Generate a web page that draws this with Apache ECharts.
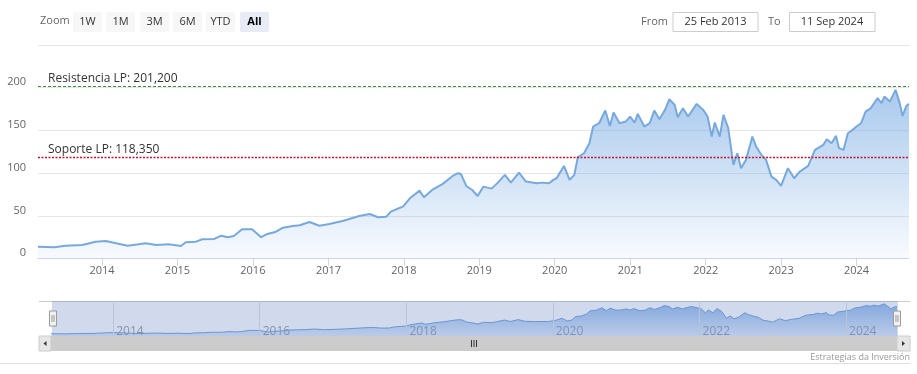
<!DOCTYPE html>
<html>
<head>
<meta charset="utf-8">
<script src="https://cdn.jsdelivr.net/npm/echarts@6/dist/echarts.min.js"></script>
<style>
  html, body { margin: 0; padding: 0; background: #fff; }
  #chart { width: 917px; height: 374px; }
</style>
</head>
<body>
<div id="chart"></div>
<script>
// ---- data ----
const dates = [
  '2013-02-25','2013-05-15','2013-07-08','2013-09-27','2013-12-01','2014-01-20','2014-03-10','2014-05-05',
  '2014-06-28','2014-08-01','2014-09-20','2014-11-20','2015-01-18','2015-02-10','2015-04-01','2015-05-01',
  '2015-06-28','2015-08-01','2015-09-01','2015-10-01','2015-11-10','2015-12-28','2016-02-10','2016-03-07',
  '2016-04-22','2016-05-26','2016-07-12','2016-08-15','2016-10-01','2016-11-18','2017-01-05','2017-03-10',
  '2017-05-30','2017-07-20','2017-08-29','2017-10-08','2017-10-30','2017-11-25','2017-12-28','2018-01-30',
  '2018-03-18','2018-04-08','2018-05-18','2018-07-08','2018-08-25','2018-09-20','2018-10-04','2018-10-30',
  '2018-11-28','2018-12-24','2019-01-20','2019-03-01','2019-04-01','2019-05-05','2019-06-03','2019-07-12',
  '2019-08-15','2019-10-05','2019-11-03','2019-12-05','2019-12-25','2020-01-10','2020-02-15','2020-03-13',
  '2020-04-05','2020-04-22','2020-05-22','2020-06-17','2020-07-05','2020-08-03','2020-09-02','2020-09-24',
  '2020-10-12','2020-11-10','2020-12-10','2020-12-31','2021-01-22','2021-02-06','2021-03-10','2021-04-05',
  '2021-04-27','2021-05-22','2021-06-18','2021-07-09','2021-08-04','2021-08-18','2021-09-13','2021-10-08',
  '2021-11-18','2021-12-20','2022-01-10','2022-01-30','2022-02-14','2022-03-10','2022-03-28','2022-04-20',
  '2022-05-15','2022-06-03','2022-06-21','2022-07-15','2022-08-15','2022-09-02','2022-09-28','2022-10-20',
  '2022-11-15','2022-12-08','2023-01-01','2023-02-03','2023-03-05','2023-04-01','2023-05-12','2023-06-14',
  '2023-07-24','2023-08-10','2023-09-02','2023-09-24','2023-10-08','2023-10-30','2023-11-20','2023-12-13',
  '2024-01-01','2024-01-23','2024-02-14','2024-03-10','2024-04-12','2024-05-01','2024-05-15','2024-06-10',
  '2024-07-08','2024-07-26','2024-08-11','2024-08-29','2024-09-11'
];
const values = [
  14.0,13.3,15.2,16.0,19.9,20.7,18.0,15.2,
  16.8,18.0,16.0,16.8,14.9,19.2,19.9,22.7,
  23.1,26.9,25.1,26.6,34.4,34.4,25.1,28.6,
  31.6,36.3,38.3,39.1,43.0,38.6,40.6,44.1,
  50.0,52.3,48.5,49.2,55.0,57.8,60.9,70.7,
  79.6,71.9,80.4,87.5,96.8,100.0,99.2,85.1,
  80.4,73.4,84.3,82.0,89.0,98.0,89.0,100.7,
  90.2,88.3,89.0,88.3,92.2,94.1,108.5,92.2,
  98.0,118.7,123.4,135.1,154.6,158.5,173.3,155.4,
  171.0,158.5,160.4,166.3,159.3,169.4,154.6,158.5,
  173.3,163.2,174.1,186.6,180.0,165.6,176.1,166.3,
  181.1,174.1,166.3,142.9,159.3,142.9,168.3,152.7,
  109.7,123.4,105.9,115.6,142.9,131.1,121.4,115.6,
  96.0,92.2,85.1,105.9,94.1,101.9,108.5,127.3,
  133.1,139.8,135.1,143.7,129.3,127.3,146.8,150.7,
  154.6,158.5,172.1,176.1,187.8,182.0,189.7,183.8,
  197.5,183.8,167.0,178.8,181.1
];
const rangeStart = '2013-02-25';
const rangeEnd = '2024-09-11';
const yTicks = [0, 50, 100, 150, 200];
const resistance = 201.2;
const resistanceLabel = 'Resistencia LP: 201,200';
const support = 118.35;
const supportLabel = 'Soporte LP: 118,350';
const navYears = ['2014-01-01','2016-01-01','2018-01-01','2020-01-01','2022-01-01','2024-01-01'];
const zoomButtons = ['1W','1M','3M','6M','YTD','All'];

// ---- chart ----
const seriesData = dates.map((d, i) => [d, values[i]]);
const FONT = 'Open Sans';
const YEAR = 365 * 24 * 3600 * 1000;

const chart = echarts.init(document.getElementById('chart'), null, { renderer: 'canvas' });

const graphics = [];
graphics.push({ type: 'text', left: 40, top: 15, style: { text: 'Zoom', fill: '#666', font: '11px "Open Sans"' } });
const btnX = [73, 106, 140, 173, 206, 240];
zoomButtons.forEach((b, i) => {
  const sel = b === 'All';
  graphics.push({ type: 'rect', shape: { x: btnX[i], y: 12, width: 29, height: 20, r: 2 },
    style: { fill: sel ? '#e6ebf5' : '#f7f7f7' } });
  graphics.push({ type: 'text', x: btnX[i] + 14.5, y: 22,
    style: { text: b, fill: sel ? '#000' : '#333', font: (sel ? 'bold ' : '') + '11px "Open Sans"', align: 'center', verticalAlign: 'middle' } });
});
graphics.push({ type: 'text', x: 641, y: 22, style: { text: 'From', fill: '#666', font: '11px "Open Sans"', verticalAlign: 'middle' } });
graphics.push({ type: 'rect', shape: { x: 673, y: 12.5, width: 85, height: 19 }, style: { fill: '#fff', stroke: '#cccccc', lineWidth: 1 } });
graphics.push({ type: 'text', x: 715.5, y: 22, style: { text: '25 Feb 2013', fill: '#333', font: '11px "Open Sans"', align: 'center', verticalAlign: 'middle' } });
graphics.push({ type: 'text', x: 768, y: 22, style: { text: 'To', fill: '#666', font: '11px "Open Sans"', verticalAlign: 'middle' } });
graphics.push({ type: 'rect', shape: { x: 789.5, y: 12.5, width: 85.5, height: 19 }, style: { fill: '#fff', stroke: '#cccccc', lineWidth: 1 } });
graphics.push({ type: 'text', x: 832, y: 22, style: { text: '11 Sep 2024', fill: '#333', font: '11px "Open Sans"', align: 'center', verticalAlign: 'middle' } });
// navigator outline top
graphics.push({ type: 'line', shape: { x1: 39, y1: 301.5, x2: 910, y2: 301.5 }, style: { stroke: '#cccccc', lineWidth: 1 }, z: 0 });
// scrollbar
graphics.push({ type: 'rect', shape: { x: 39, y: 336, width: 871, height: 15 }, style: { fill: '#f2f2f2' } });
graphics.push({ type: 'rect', shape: { x: 51, y: 336, width: 846, height: 15 }, style: { fill: '#cccccc' } });
graphics.push({ type: 'rect', shape: { x: 39, y: 336, width: 12, height: 15 }, style: { fill: '#e6e6e6', stroke: '#cccccc', lineWidth: 1 } });
graphics.push({ type: 'rect', shape: { x: 897, y: 336, width: 13, height: 15 }, style: { fill: '#e6e6e6', stroke: '#cccccc', lineWidth: 1 } });
graphics.push({ type: 'polygon', shape: { points: [[46.5, 341], [46.5, 346], [43.5, 343.5]] }, style: { fill: '#333' } });
graphics.push({ type: 'polygon', shape: { points: [[902, 341], [902, 346], [905, 343.5]] }, style: { fill: '#333' } });
[471.5, 474, 476.5].forEach(x => graphics.push({ type: 'line', shape: { x1: x, y1: 340, x2: x, y2: 347 }, style: { stroke: '#333', lineWidth: 1 } }));
// credits and bottom rule
graphics.push({ type: 'text', x: 910, y: 357, style: { text: 'Estrategias da Inversión', fill: '#999', font: '9px "Open Sans"', align: 'right', verticalAlign: 'middle' } });
graphics.push({ type: 'line', shape: { x1: 0, y1: 363.5, x2: 910, y2: 363.5 }, style: { stroke: '#dddddd', lineWidth: 1 } });

const markLabel = {
  show: true, position: 'insideStartTop', formatter: '{b}', distance: [10, 2],
  color: '#333', fontFamily: FONT, fontSize: 12
};

const option = {
  animation: false,
  backgroundColor: '#ffffff',
  textStyle: { fontFamily: FONT },
  graphic: graphics,
  grid: [
    { left: 38, right: 8, top: 45, height: 213.7 },
    { left: 51, right: 20, top: 301, height: 35 }
  ],
  xAxis: [
    {
      type: 'time', gridIndex: 0, min: rangeStart, max: rangeEnd,
      minInterval: YEAR, maxInterval: YEAR * 1.01, splitNumber: 12,
      axisLine: { lineStyle: { color: '#ccd6eb' } },
      axisTick: { show: true, length: 7, lineStyle: { color: '#ccd6eb' } },
      axisLabel: { formatter: '{yyyy}', color: '#666', fontFamily: FONT, fontSize: 11, margin: 7 },
      splitLine: { show: false }
    },
    {
      type: 'time', gridIndex: 1, min: rangeStart, max: rangeEnd,
      minInterval: YEAR, maxInterval: YEAR * 1.01, splitNumber: 12,
      axisLine: { show: false }, axisTick: { show: false },
      axisLabel: {
        inside: true, align: 'left', margin: -2, padding: [0, 0, 0, 3],
        color: '#999', fontFamily: FONT, fontSize: 12,
        formatter: v => { const y = new Date(v).getFullYear(); return y % 2 === 0 ? String(y) : ''; }
      },
      splitLine: { show: false }
    }
  ],
  yAxis: [
    {
      type: 'value', gridIndex: 0, min: 0, max: 250, interval: 50,
      axisLine: { show: false }, axisTick: { show: false },
      axisLabel: {
        color: '#666', fontFamily: FONT, fontSize: 11, margin: 12, verticalAlign: 'bottom',
        formatter: v => (yTicks.indexOf(v) >= 0 ? String(v) : '')
      },
      splitLine: { lineStyle: { color: '#e6e6e6' } }
    },
    { type: 'value', gridIndex: 1, min: 0, max: 215, show: false, splitLine: { show: false } }
  ],
  dataZoom: [{
    type: 'slider', xAxisIndex: 0, start: 0, end: 100, filterMode: 'none',
    left: 51, right: 20, top: 301, height: 35,
    backgroundColor: 'rgba(0,0,0,0)', borderColor: 'rgba(0,0,0,0)',
    fillerColor: 'rgba(102,133,194,0.3)',
    showDataShadow: false, showDetail: false, brushSelect: false,
    moveHandleSize: 0,
    handleIcon: 'path://M0,0 L7,0 L7,15 L0,15 Z M2.5,4 L2.5,11 M4.5,4 L4.5,11',
    handleSize: '43%',
    handleStyle: { color: '#f2f2f2', borderColor: '#999999', borderWidth: 1 },
    emphasis: { handleStyle: { color: '#f2f2f2', borderColor: '#999999' } },
    z: 6
  }],
  series: [
    {
      type: 'line', xAxisIndex: 0, yAxisIndex: 0, data: seriesData,
      showSymbol: false, symbol: 'none', smooth: false,
      lineStyle: { color: '#78a9dc', width: 2 },
      areaStyle: {
        color: new echarts.graphic.LinearGradient(0, 0, 0, 1, [
          { offset: 0, color: 'rgba(118,170,228,0.9)' },
          { offset: 1, color: 'rgba(118,170,228,0.07)' }
        ])
      },
      markLine: {
        silent: true, symbol: 'none', animation: false,
        label: markLabel,
        lineStyle: { color: '#3d8c40', type: [3, 2], width: 1 },
        data: [
          { name: resistanceLabel, yAxis: resistance },
          { name: supportLabel, yAxis: support, lineStyle: { color: '#c41230', type: [2, 1.5], width: 1.4 } }
        ]
      }
    },
    {
      type: 'line', xAxisIndex: 1, yAxisIndex: 1, data: seriesData,
      showSymbol: false, symbol: 'none',
      lineStyle: { color: '#6b9ed8', width: 1 },
      areaStyle: {
        color: new echarts.graphic.LinearGradient(0, 0, 0, 1, [
          { offset: 0, color: 'rgba(100,155,225,1)' },
          { offset: 1, color: 'rgba(100,155,225,0.3)' }
        ])
      },
      markLine: {
        silent: true, symbol: 'none', animation: false,
        label: { show: false },
        lineStyle: { color: '#e0e0e0', type: 'solid', width: 1 },
        data: navYears.map(d => ({ xAxis: d }))
      }
    }
  ]
};
chart.setOption(option);
</script>
</body>
</html>
